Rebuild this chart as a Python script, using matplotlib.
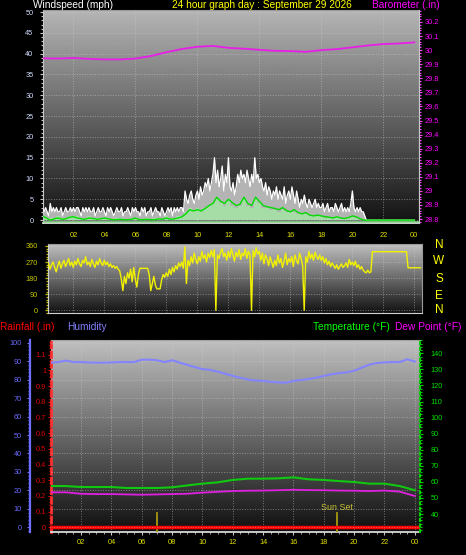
import numpy as np
import matplotlib
matplotlib.use('Agg')
import matplotlib.pyplot as plt
from matplotlib.ticker import MultipleLocator, FormatStrFormatter

plt.rcParams['font.family'] = ['Liberation Sans', 'DejaVu Sans']

# ---- data ----
hour_labels = ['02', '04', '06', '08', '10', '12', '14', '16', '18', '20', '22', '00']
hour_ticks = [2, 4, 6, 8, 10, 12, 14, 16, 18, 20, 22, 24]

# wind gust (mph), every 0.1 h from 00:00
gust = [3, 2, 3, 2, 1, 4, 2, 3, 2, 3,
        2, 2, 3, 1, 2, 3, 2, 2, 3, 2,
        3, 2, 3, 3, 2, 1, 3, 2, 3, 2,
        3, 2, 2, 3, 1, 2, 3, 2, 2, 3,
        2, 1, 3, 2, 3, 2, 1, 2, 3, 2,
        2, 3, 1, 2, 2, 3, 2, 1, 3, 2,
        3, 2, 2, 1, 3, 2, 3, 1, 2, 2,
        3, 1, 2, 3, 2, 2, 1, 3, 2, 1,
        2, 3, 2, 3, 1, 3, 2, 3, 2, 3,
        3, 2, 7, 5, 4, 6, 7, 5, 4, 6,
        7, 5, 8, 6, 7, 9, 8, 10, 7, 9,
        11, 15, 9, 12, 8, 10, 13, 7, 11, 9,
        15, 8, 7, 9, 6, 8, 11, 9, 12, 10,
        11, 9, 12, 10, 8, 11, 9, 15, 10, 11,
        9, 10, 8, 7, 9, 6, 8, 7, 5, 7,
        6, 8, 5, 7, 6, 5, 8, 4, 6, 7,
        5, 8, 6, 4, 7, 5, 3, 5, 4, 6,
        4, 3, 5, 4, 3, 4, 5, 3, 4, 3,
        3, 4, 2, 3, 4, 2, 3, 3, 2, 4,
        3, 2, 3, 4, 2, 3, 2, 3, 2, 4,
        7, 3, 2, 3, 2, 3, 2, 2, 1, 0,
        0, 0, 0, 0, 0, 0, 0, 0, 0, 0,
        0, 0, 0, 0, 0, 0, 0, 0, 0, 0,
        0, 0, 0, 0, 0, 0, 0, 0, 0, 0, 0]
gust_hours = np.round(np.arange(len(gust)) * 0.1, 1)

# average wind and wind speed bars (mph), every 0.25 h
wind_avg = [1, 0.5, 0, 0.3, 0.5, 0.2, 0.3, 0.7,
            0.8, 0.5, 0.3, 0.2, 0.5, 0.4, 0.2, 0.3,
            0.5, 0.3, 0.1, 0.1, 0.2, 0.1, 0.1, 0.2,
            0.5, 0.1, 0.1, 0.2, 0.1, 0.1, 0.3, 0.2,
            0.5, 0.2, 0.3, 0.5, 0.8, 1.5, 2.5, 2.2,
            2.5, 2.2, 2.8, 3.5, 4.0, 5.5, 4.5, 4.0,
            5.0, 4.2, 3.5, 3.8, 5.5, 4.0, 3.5, 5.5,
            4.5, 3.5, 3.2, 3.0, 2.8, 2.5, 3.0, 2.3,
            2.0, 2.5, 1.8, 1.5, 1.8, 1.2, 1.0, 1.2,
            1.0, 0.8, 0.7, 0.5, 0.8, 0.5, 0.4, 0.6,
            1.0, 0.8, 0.3, 0, 0, 0, 0, 0,
            0, 0, 0, 0, 0, 0, 0, 0, 0]
wind_speed = [1, 0.5, 0.5, 0.5, 1, 0.5, 0.5, 1,
              1, 1, 0.5, 0.5, 1, 0.5, 0.5, 0.5,
              0.5, 0.5, 0, 0.5, 0.5, 0, 0, 0.5,
              0.5, 0, 0, 0.5, 0, 0.5, 0.5, 0,
              1, 0.5, 0.5, 1, 1, 2, 3, 2.5,
              3, 2.5, 3, 3.5, 4, 5, 4, 3.5,
              4.5, 3.5, 3, 3.5, 5, 3.5, 3, 5,
              4, 3, 3, 2.5, 2.5, 2, 2.5, 2,
              2, 2, 1.5, 1.5, 1.5, 1, 1, 1,
              1, 0.5, 0.5, 0.5, 1, 0.5, 0.5, 0.5,
              1, 0.5, 0, 0, 0, 0, 0, 0,
              0, 0, 0, 0, 0, 0, 0, 0, 0]
avg_hours = np.arange(len(wind_avg)) * 0.25

# barometer (in), hourly
baro = [29.942, 29.94, 29.944, 29.938, 29.934, 29.934, 29.94, 29.958, 29.985,
        30.008, 30.024, 30.03, 30.016, 30.01, 30.002, 29.995, 29.993, 29.988,
        30.0, 30.007, 30.02, 30.033, 30.043, 30.047, 30.055]
baro_hours = np.arange(len(baro))

# wind direction (deg), every 0.1 h from 00:24, then the evening plateaus
direction = [262, 230, 255, 270, 240, 215,
             250, 275, 235, 260, 280, 245, 265, 290, 250, 270,
             240, 275, 255, 290, 260, 245, 280, 265, 300, 255,
             270, 245, 285, 260, 240, 275, 255, 290, 265, 250,
             280, 255, 270, 245, 260, 240, 250, 235, 245, 230,
             220, 175, 110, 190, 150, 210, 180, 230, 160, 240,
             175, 130, 200, 235, 235, 235, 235, 235, 235, 200,
             110, 150, 190, 140, 120, 120, 120, 170, 200, 185,
             210, 190, 230, 200, 240, 215, 250, 230, 265, 245,
             270, 235, 355, 150, 280, 250, 300, 265, 320, 285,
             260, 300, 275, 330, 290, 310, 270, 320, 295, 335,
             300, 340, 0, 310, 290, 325, 345, 300, 320, 280,
             330, 295, 345, 310, 275, 325, 300, 340, 285, 320,
             305, 345, 290, 330, 310, 0, 335, 300, 350, 315,
             330, 280, 320, 260, 310, 290, 250, 300, 270, 240,
             280, 250, 310, 265, 290, 240, 275, 320, 255, 290,
             270, 300, 245, 310, 280, 260, 320, 290, 250, 0,
             300, 270, 330, 290, 315, 280, 325, 300, 285, 310,
             280, 300, 265, 290, 255, 275, 245, 265, 250, 235,
             255, 230, 245, 260, 240, 250, 265, 240, 285, 255,
             270, 250, 275, 240, 255, 230, 245, 225, 215, 210,
             225, 210, 215,
             328, 328, 238, 238]
dir_hours = np.concatenate([np.round(0.4 + np.arange(len(direction) - 4) * 0.1, 1),
                            [21.3, 23.5, 23.6, 24.4]])

# humidity (%), every 0.5 h
humidity = [89.2, 89.5, 90.3, 89.5, 89.5, 89.3, 89.2, 89.2, 89.3, 89.5,
            89.5, 89.5, 90.8, 90.8, 90.5, 89.5, 90.5, 89.2, 88, 86.8,
            85.7, 85.3, 84.3, 83.2, 82, 81, 80, 79.5, 79.3, 78.8,
            78.5, 78.3, 79.3, 79.8, 80.3, 81, 82, 82.9, 83.5, 83.9,
            84.8, 86.5, 88.1, 89, 89.3, 89.5, 89.5, 91, 89.8]
hum_hours = np.arange(len(humidity)) * 0.5

# temperature / dew point (F), hourly
temperature = [57.4, 57.4, 56.8, 56.8, 56.8, 56.2, 56.2, 56.2, 56.6, 57.8, 58.9, 59.7,
               61.2, 62.0, 62.0, 62.2, 62.8, 61.6, 61.2, 60.5, 59.9, 58.9, 58.9, 57.4, 54.8]
dew_point = [53.5, 53.5, 52.6, 52.4, 52.4, 52.2, 52.0, 52.2, 52.4, 52.6, 53.3, 53.8,
             54.3, 54.5, 54.6, 54.8, 55.1, 54.9, 54.8, 54.6, 54.5, 54.3, 54.6, 53.9, 51.2]
temp_hours = np.arange(len(temperature))

rain_hours = [0, 6, 12, 18, 24.3]
rainfall = [0, 0, 0, 0, 0]

sun_hours = [7.0, 18.85]
sun_labels = ['', 'Sun Set']

W, H = 466, 555
YEL = '#e0e000'
GRID = dict(color='#d0d0d0', linestyle=':', linewidth=0.7, alpha=0.5)


def box(l, t, r, b):
    return [l / W, 1 - b / H, (r - l) / W, (b - t) / H]


def gradient(ax, top, bottom):
    g = np.linspace(bottom, top, 256).reshape(-1, 1)
    ax.imshow(g, cmap='gray', vmin=0, vmax=1, origin='lower', extent=[0, 1, 0, 1],
              transform=ax.transAxes, aspect='auto', zorder=0)


def ftext(x, y, s, color, size=7.3, ha='left'):
    fig.text(x / W, 1 - y / H, s, color=color, fontsize=size, ha=ha, va='center')


fig = plt.figure(figsize=(W / 100, H / 100), dpi=100, facecolor='black')

# ---------------- wind / barometer ----------------
ax_w = fig.add_axes(box(42.5, 10, 419, 223))
gradient(ax_w, 0.71, 0.07)
ax_w.fill_between(gust_hours, 0, gust, color='#b4b4b4', lw=0, zorder=2)
ax_w.plot(gust_hours, gust, color='white', lw=0.9, zorder=3)
ax_w.fill_between(avg_hours, 0, wind_speed, step='mid', color='#a6dca6', lw=0, zorder=4)
ax_w.plot(avg_hours, wind_avg, color='#00dd00', lw=1.0, zorder=5)
ax_w.axhline(-0.35, color='#8fdc8f', lw=1.2, zorder=5)
ax_w.set_xlim(0, 24.3)
ax_w.set_ylim(-0.7, 50.5)
ax_w.yaxis.set_major_locator(MultipleLocator(5))
ax_w.yaxis.set_minor_locator(MultipleLocator(1))
ax_w.grid(axis='y', **GRID)
for x in range(2, 24, 4):
    ax_w.axvline(x, zorder=1, **GRID)
ax_w.set_xticks(hour_ticks)
ax_w.set_xticklabels(hour_labels)
ax_w.tick_params(axis='x', length=0, pad=6.8, labelsize=5.3, labelcolor=YEL)
ax_w.tick_params(axis='y', which='both', color='#c8c8c8', labelcolor='#d0dcff',
                 labelsize=5.3, length=2.5, width=0.8, pad=4)
ax_w.tick_params(axis='y', which='minor', length=1.5)
for s, c in [('left', '#c8c8c8'), ('bottom', '#e0e0e0'), ('top', '#9a9a9a'), ('right', '#c8c8c8')]:
    ax_w.spines[s].set_color(c)
ax_w.spines['bottom'].set_linewidth(1.3)

ax_b = ax_w.twinx()
ax_b.plot(baro_hours, baro, color='#e81ee8', lw=1.3)
ax_b.set_ylim(28.772, 30.285)
ax_b.yaxis.set_major_locator(MultipleLocator(0.1))
ax_b.yaxis.set_minor_locator(MultipleLocator(0.02))
ax_b.yaxis.set_major_formatter(FormatStrFormatter('%g'))
ax_b.tick_params(axis='y', which='both', color='#ff40ff', labelcolor='#ff00ff',
                 labelsize=5.3, length=2, width=0.8, pad=2.3)
ax_b.tick_params(axis='y', which='minor', length=1.5)
for s in ['left', 'top', 'bottom']:
    ax_b.spines[s].set_visible(False)
ax_b.spines['right'].set_color('#c8c8c8')

# ---------------- wind direction ----------------
ax_d = fig.add_axes(box(48, 244, 421.7, 313))
gradient(ax_d, 0.75, 0.07)
ax_d.plot(dir_hours, direction, color='#f2f200', lw=1.0, zorder=3)
ax_d.set_xlim(0.37, 24.48)
ax_d.set_ylim(-15, 371)
ax_d.set_yticks([0, 90, 180, 270, 360])
ax_d.yaxis.set_minor_locator(MultipleLocator(15))
ax_d.set_xticks(hour_ticks)
ax_d.grid(axis='both', **GRID)
ax_d.tick_params(axis='x', length=0, labelbottom=False)
ax_d.tick_params(axis='y', which='both', color='#c0c000', labelcolor='#c8c800',
                 labelsize=5.3, length=2, width=0.9, pad=5)
ax_d.tick_params(axis='y', which='minor', length=1.5)
for s, c in [('left', '#d0d0d0'), ('bottom', '#d0d0d0'), ('top', '#9a9a9a'), ('right', '#9a9a9a')]:
    ax_d.spines[s].set_color(c)

for lab, y in zip(['N', 'W', 'S', 'E', 'N'], [245, 261, 279, 296, 310]):
    ftext(439, y, lab, '#ffff00', size=8.5, ha='center')

# ---------------- rain / humidity / temperature ----------------
ax_r = fig.add_axes(box(51, 340, 420, 531.7))
gradient(ax_r, 0.75, 0.06)
for h, lab in zip(sun_hours, sun_labels):
    ax_r.axvline(h, 0, 0.10, color='#a89a10', lw=1.3, zorder=3)
    if lab:
        ax_r.text(h, 0.125, lab, color='#c8c030', fontsize=6.4, ha='center', va='center',
                  transform=ax_r.get_xaxis_transform())
ax_r.plot(rain_hours, rainfall, color='#ff0000', lw=2.5, zorder=4)
ax_r.set_xlim(0.02, 24.34)
ax_r.set_ylim(-0.028, 1.193)
ax_r.yaxis.set_major_locator(MultipleLocator(0.1))
ax_r.yaxis.set_minor_locator(MultipleLocator(0.02))
ax_r.yaxis.set_major_formatter(FormatStrFormatter('%g'))
ax_r.set_xticks(hour_ticks)
ax_r.set_xticklabels(hour_labels)
ax_r.xaxis.set_minor_locator(MultipleLocator(0.5))
ax_r.grid(axis='x', **GRID)
ax_r.tick_params(axis='x', which='both', color='#c8c8c8', labelcolor=YEL, labelsize=5.3,
                 length=2, pad=3.4)
ax_r.tick_params(axis='x', which='minor', length=1.5)
ax_r.tick_params(axis='y', which='both', color='#e00000', labelcolor='#e00000',
                 labelsize=5.3, length=2, width=0.8, pad=1.5)
ax_r.tick_params(axis='y', which='minor', length=1.2)
ax_r.spines['left'].set_color('#ff3030')
ax_r.spines['left'].set_linestyle((0, (2, 1.5)))
ax_r.spines['left'].set_linewidth(2)
ax_r.spines['bottom'].set_color('#d8d8d8')
ax_r.spines['bottom'].set_linewidth(1.3)
ax_r.spines['top'].set_color('#a0a0a0')
ax_r.spines['right'].set_visible(False)

ax_h = ax_r.twinx()
ax_h.yaxis.set_ticks_position('left')
ax_h.spines['left'].set_position(('axes', (30 - 51) / 369))
ax_h.spines['left'].set_visible(True)
ax_h.spines['left'].set_color('#6e6eff')
ax_h.spines['left'].set_linewidth(1.6)
for s in ['right', 'top', 'bottom']:
    ax_h.spines[s].set_visible(False)
ax_h.plot(hum_hours, humidity, color='#8484ff', lw=1.5, zorder=3)
ax_h.set_ylim(-2.38, 101.46)
ax_h.yaxis.set_major_locator(MultipleLocator(10))
ax_h.yaxis.set_minor_locator(MultipleLocator(2))
ax_h.grid(axis='y', **GRID)
ax_h.tick_params(axis='y', which='both', color='#6e6eff', labelcolor='#6a6aff',
                 labelsize=5.3, length=2.5, width=0.8, pad=3.5)
ax_h.tick_params(axis='y', which='minor', length=1.5)

ax_t = ax_r.twinx()
ax_t.plot(temp_hours, temperature, color='#10c810', lw=1.5, zorder=3)
ax_t.plot(temp_hours, dew_point, color='#e020e0', lw=1.3, zorder=3)
ax_t.set_ylim(28.99, 148.3)
ax_t.set_yticks(range(40, 141, 10))
ax_t.yaxis.set_minor_locator(MultipleLocator(2))
ax_t.tick_params(axis='y', which='both', color='#00d000', labelcolor='#00e000',
                 labelsize=5.3, length=2.5, width=0.8, pad=5)
ax_t.tick_params(axis='y', which='minor', length=1.5)
for s in ['left', 'top', 'bottom']:
    ax_t.spines[s].set_visible(False)
ax_t.spines['right'].set_color('#00d000')
ax_t.spines['right'].set_linestyle(':')
ax_t.spines['right'].set_linewidth(1.5)

# ---------------- header texts ----------------
ftext(33, 5, 'Windspeed (mph)', 'white')
ftext(172, 5, '24 hour graph day : September 29 2026', '#ffff00')
ftext(372, 5, 'Barometer (.in)', '#ff00ff')
ftext(0, 327, 'Rainfall (.in)', '#ff0000')
ftext(67, 327, 'Humidity', '#8080ff')
ftext(313, 327, 'Temperature (°F)', '#00ff00')
ftext(395, 327, 'Dew Point (°F)', '#ff00ff')

fig.savefig('out.png', dpi=100, facecolor='black')
